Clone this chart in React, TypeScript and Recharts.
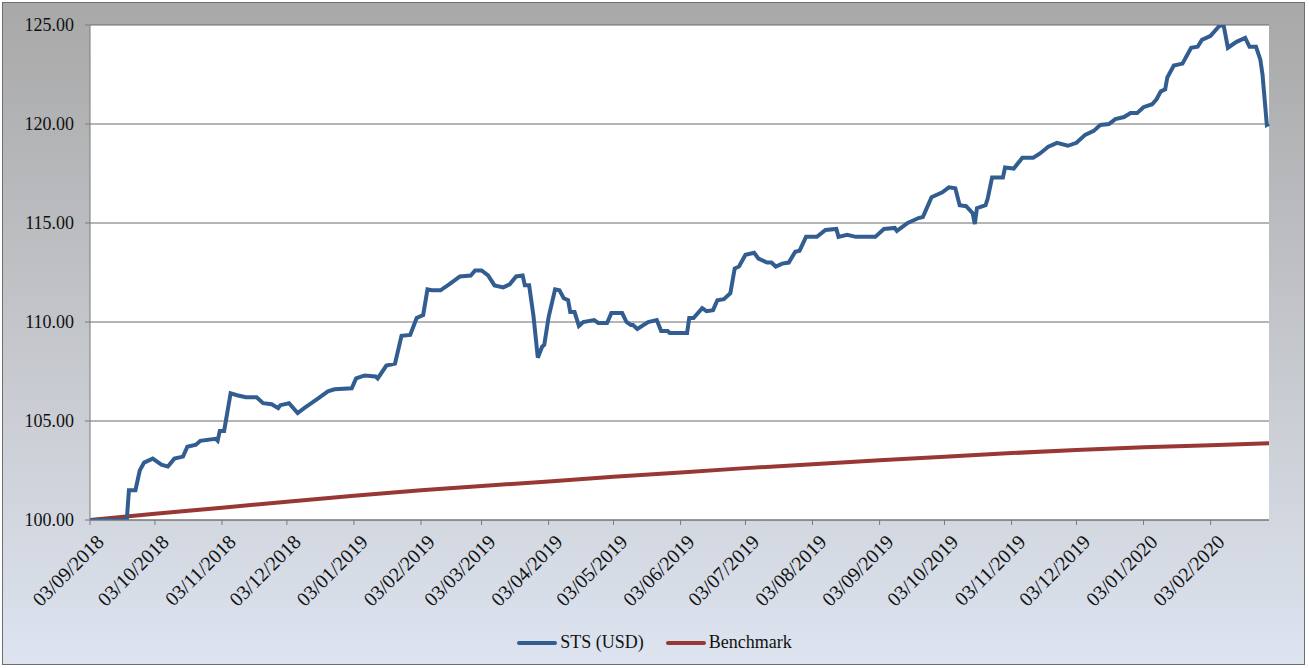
import { LineChart, Line, XAxis, YAxis, CartesianGrid, Legend } from 'recharts';

// STS (USD) series
const stsDates = [
  '2018-09-03', '2018-09-20', '2018-09-21', '2018-09-24', '2018-09-26', '2018-09-28', '2018-10-02', '2018-10-06',
  '2018-10-09', '2018-10-12', '2018-10-16', '2018-10-18', '2018-10-22', '2018-10-24', '2018-10-31', '2018-11-01',
  '2018-11-02', '2018-11-04', '2018-11-07', '2018-11-10', '2018-11-14', '2018-11-19', '2018-11-22', '2018-11-26',
  '2018-11-29', '2018-11-30', '2018-12-04', '2018-12-08', '2018-12-11', '2018-12-15', '2018-12-17', '2018-12-22',
  '2018-12-25', '2019-01-02', '2019-01-04', '2019-01-08', '2019-01-13', '2019-01-14', '2019-01-18', '2019-01-22',
  '2019-01-25', '2019-01-29', '2019-02-01', '2019-02-04', '2019-02-06', '2019-02-08', '2019-02-12', '2019-02-16',
  '2019-02-21', '2019-02-26', '2019-02-28', '2019-03-03', '2019-03-06', '2019-03-09', '2019-03-13', '2019-03-16',
  '2019-03-19', '2019-03-22', '2019-03-23', '2019-03-25', '2019-03-27', '2019-03-29', '2019-03-31', '2019-04-01',
  '2019-04-03', '2019-04-06', '2019-04-08', '2019-04-10', '2019-04-12', '2019-04-13', '2019-04-15', '2019-04-17',
  '2019-04-19', '2019-04-24', '2019-04-26', '2019-04-30', '2019-05-02', '2019-05-07', '2019-05-09', '2019-05-11',
  '2019-05-12', '2019-05-14', '2019-05-19', '2019-05-23', '2019-05-25', '2019-05-28', '2019-05-29', '2019-06-06',
  '2019-06-07', '2019-06-09', '2019-06-13', '2019-06-15', '2019-06-18', '2019-06-20', '2019-06-23', '2019-06-26',
  '2019-06-28', '2019-06-30', '2019-07-03', '2019-07-07', '2019-07-09', '2019-07-13', '2019-07-15', '2019-07-17',
  '2019-07-20', '2019-07-23', '2019-07-26', '2019-07-28', '2019-07-31', '2019-08-05', '2019-08-09', '2019-08-14',
  '2019-08-15', '2019-08-19', '2019-08-23', '2019-09-01', '2019-09-05', '2019-09-10', '2019-09-11', '2019-09-16',
  '2019-09-21', '2019-09-23', '2019-09-25', '2019-09-27', '2019-10-02', '2019-10-05', '2019-10-08', '2019-10-10',
  '2019-10-13', '2019-10-16', '2019-10-17', '2019-10-18', '2019-10-22', '2019-10-23', '2019-10-25', '2019-10-30',
  '2019-10-31', '2019-11-04', '2019-11-08', '2019-11-13', '2019-11-16', '2019-11-20', '2019-11-24', '2019-11-29',
  '2019-12-03', '2019-12-07', '2019-12-11', '2019-12-14', '2019-12-18', '2019-12-21', '2019-12-25', '2019-12-28',
  '2019-12-31', '2020-01-03', '2020-01-07', '2020-01-09', '2020-01-11', '2020-01-13', '2020-01-14', '2020-01-17',
  '2020-01-21', '2020-01-23', '2020-01-25', '2020-01-28', '2020-01-30', '2020-02-03', '2020-02-07', '2020-02-09',
  '2020-02-11', '2020-02-15', '2020-02-19', '2020-02-21', '2020-02-24', '2020-02-26', '2020-02-27', '2020-02-29',
  '2020-03-01',
];
const stsValues = [
  100.0, 100.0, 101.5, 101.5, 102.5, 102.9, 103.1, 102.8,
  102.7, 103.1, 103.2, 103.7, 103.8, 104.0, 104.1, 104.0,
  104.5, 104.5, 106.4, 106.3, 106.2, 106.2, 105.9, 105.85,
  105.65, 105.8, 105.9, 105.4, 105.65, 105.95, 106.1, 106.5,
  106.6, 106.65, 107.15, 107.3, 107.25, 107.15, 107.8, 107.9,
  109.3, 109.35, 110.2, 110.35, 111.65, 111.6, 111.6, 111.9,
  112.3, 112.35, 112.6, 112.6, 112.35, 111.85, 111.75, 111.9,
  112.3, 112.35, 111.85, 111.85, 110.3, 108.2, 108.75, 108.85,
  110.25, 111.65, 111.6, 111.2, 111.1, 110.5, 110.5, 109.8,
  110.0, 110.1, 109.95, 109.95, 110.45, 110.45, 110.0, 109.85,
  109.85, 109.65, 110.0, 110.1, 109.55, 109.55, 109.45, 109.45,
  110.2, 110.2, 110.7, 110.55, 110.6, 111.1, 111.15, 111.45,
  112.7, 112.8, 113.4, 113.5, 113.2, 113.0, 113.0, 112.8,
  112.95, 113.0, 113.55, 113.6, 114.3, 114.3, 114.65, 114.7,
  114.3, 114.4, 114.3, 114.3, 114.7, 114.75, 114.6, 115.0,
  115.25, 115.3, 115.8, 116.3, 116.55, 116.8, 116.75, 115.9,
  115.85, 115.5, 114.95, 115.75, 115.9, 116.25, 117.3, 117.3,
  117.8, 117.75, 118.3, 118.3, 118.5, 118.85, 119.05, 118.9,
  119.05, 119.45, 119.65, 119.95, 120.0, 120.25, 120.35, 120.55,
  120.55, 120.85, 121.0, 121.25, 121.65, 121.75, 122.35, 122.95,
  123.05, 123.45, 123.85, 123.9, 124.25, 124.45, 124.95, 125.0,
  123.85, 124.15, 124.35, 123.9, 123.9, 123.25, 122.5, 119.95,
  120.0,
];

// Benchmark
const benchDates = [
  '2018-09-03', '2018-10-03', '2018-11-03', '2018-12-03', '2019-01-03', '2019-02-03', '2019-03-03',
  '2019-04-03', '2019-05-03', '2019-06-03', '2019-07-03', '2019-08-03', '2019-09-03', '2019-10-03',
  '2019-11-03', '2019-12-03', '2020-01-03', '2020-02-03', '2020-03-01',
];
const benchValues = [
  100.0, 100.32, 100.62, 100.92, 101.22, 101.5, 101.72,
  101.95, 102.18, 102.4, 102.62, 102.82, 103.02, 103.2,
  103.38, 103.53, 103.67, 103.78, 103.87,
];

const tickDates = [
  '2018-09-03', '2018-10-03', '2018-11-03', '2018-12-03', '2019-01-03', '2019-02-03', '2019-03-03',
  '2019-04-03', '2019-05-03', '2019-06-03', '2019-07-03', '2019-08-03', '2019-09-03', '2019-10-03',
  '2019-11-03', '2019-12-03', '2020-01-03', '2020-02-03',
];
const yTicks = [100, 105, 110, 115, 120, 125];

const toTime = (s: string) => Date.parse(s + 'T00:00:00Z');

const fmtDate = (t: number) => {
  const d = new Date(t);
  const dd = String(d.getUTCDate()).padStart(2, '0');
  const mm = String(d.getUTCMonth() + 1).padStart(2, '0');
  return `${dd}/${mm}/${d.getUTCFullYear()}`;
};

// merge both series on a shared time axis
const byTime = new Map<number, { t: number; sts?: number; bench?: number }>();
stsDates.forEach((d, i) => {
  const t = toTime(d);
  byTime.set(t, { ...(byTime.get(t) || { t }), sts: stsValues[i] });
});
benchDates.forEach((d, i) => {
  const t = toTime(d);
  byTime.set(t, { ...(byTime.get(t) || { t }), bench: benchValues[i] });
});
const data = Array.from(byTime.values()).sort((a, b) => a.t - b.t);

const FONT = '"Liberation Serif", serif';
const BLUE = '#325d91';
const RED = '#983835';

function DateTick({ x, y, payload }: any) {
  return (
    <g transform={`translate(${x + 5},${y + 6})`}>
      <text
        x={0}
        y={0}
        dy="0.72em"
        textAnchor="end"
        transform="rotate(-45)"
        fontFamily={FONT}
        fontSize={20}
        fill="#111"
      >
        {fmtDate(payload.value)}
      </text>
    </g>
  );
}

function LegendContent() {
  const items = [
    { label: 'STS (USD)', color: BLUE },
    { label: 'Benchmark', color: RED },
  ];
  return (
    <div style={{ display: 'flex', justifyContent: 'center', gap: 22, fontFamily: FONT, fontSize: 18, color: '#111' }}>
      {items.map(it => (
        <div key={it.label} style={{ display: 'flex', alignItems: 'center', gap: 3 }}>
          <div style={{ width: 40, height: 4, borderRadius: 2, background: it.color }} />
          <span>{it.label}</span>
        </div>
      ))}
    </div>
  );
}

export default function App() {
  const t0 = toTime(stsDates[0]);
  const t1 = toTime(stsDates[stsDates.length - 1]);
  return (
    <div style={{ position: 'absolute', left: 0, top: 0, width: 1309, height: 668, background: '#fff' }}>
      <div
        style={{
          position: 'absolute',
          left: 2,
          top: 2,
          width: 1303,
          height: 663,
          boxSizing: 'border-box',
          border: '1px solid #6e6e6e',
          background: 'linear-gradient(to bottom, #a8a8a8 0%, #c9ccd2 60%, #dde4f0 100%)',
        }}
      />
      <div style={{ position: 'absolute', left: 0, top: 0 }}>
        <LineChart width={1309} height={668} data={data} margin={{ top: 25, right: 40, bottom: 48, left: 0 }}>
          <CartesianGrid horizontal vertical={false} stroke="#6a6a6a" strokeOpacity={1} fill="#ffffff" fillOpacity={1} />
          <XAxis
            dataKey="t"
            type="number"
            scale="time"
            domain={[t0, t1]}
            ticks={tickDates.map(toTime)}
            tick={<DateTick />}
            tickSize={5}
            height={100}
            interval={0}
            axisLine={{ stroke: '#7a7a7a' }}
            tickLine={{ stroke: '#7a7a7a' }}
          />
          <YAxis
            type="number"
            domain={[100, 125]}
            ticks={yTicks}
            allowDataOverflow
            width={90}
            tickFormatter={(v: number) => v.toFixed(2)}
            tick={{ fontFamily: FONT, fontSize: 18, fill: '#111' }}
            tickSize={5}
            tickMargin={11}
            axisLine={{ stroke: '#7a7a7a' }}
            tickLine={{ stroke: '#7a7a7a' }}
          />
          <Legend
            layout="horizontal"
            verticalAlign="middle"
            align="center"
            wrapperStyle={{ top: 632, left: 0, width: 1309 }}
            content={<LegendContent />}
          />
          <Line
            type="linear"
            dataKey="bench"
            name="Benchmark"
            stroke={RED}
            strokeWidth={4}
            dot={false}
            connectNulls
            isAnimationActive={false}
          />
          <Line
            type="linear"
            dataKey="sts"
            name="STS (USD)"
            stroke={BLUE}
            strokeWidth={4}
            dot={false}
            connectNulls
            isAnimationActive={false}
          />
        </LineChart>
      </div>
    </div>
  );
}
